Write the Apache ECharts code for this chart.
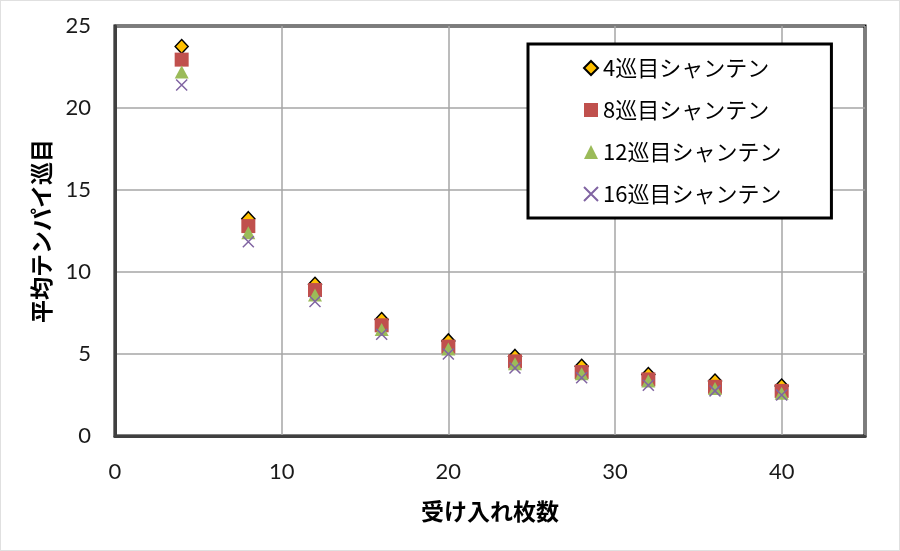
<!DOCTYPE html>
<html>
<head>
<meta charset="utf-8">
<script src="https://cdn.jsdelivr.net/npm/echarts@6/dist/echarts.min.js"></script>
<style>
html,body{margin:0;padding:0;background:#fff;}
#main{width:900px;height:551px;box-sizing:border-box;border:1px solid #e0e0e0;}
</style>
</head>
<body>
<div id="main"></div>
<script>
// 受け入れ枚数
var ukeire = [4, 8, 12, 16, 20, 24, 28, 32, 36, 40];
// 平均テンパイ巡目
var shanten4  = [23.75, 13.25, 9.25, 7.1, 5.8, 4.85, 4.25, 3.75, 3.35, 3.05];
var shanten8  = [22.95, 12.8, 8.9, 6.75, 5.45, 4.55, 3.9, 3.45, 3.0, 2.75];
var shanten12 = [22.2, 12.4, 8.6, 6.5, 5.3, 4.4, 3.8, 3.35, 2.9, 2.6];
var shanten16 = [21.4, 11.85, 8.2, 6.2, 5.0, 4.15, 3.55, 3.1, 2.75, 2.5];
var seriesNames = ['4巡目シャンテン', '8巡目シャンテン', '12巡目シャンテン', '16巡目シャンテン'];

function pairs(ys){
    return ukeire.map(function(x, i){ return [x, ys[i]]; });
}

var numFont = "Lato, 'Noto Sans CJK JP', sans-serif";
var jpFont = "'Noto Sans CJK JP', sans-serif";
var crossPath = 'path://M0,0L10,10M10,0L0,10';

var myChart = echarts.init(document.getElementById('main'));
var option = {
    backgroundColor: '#fff',
    animation: false,
    grid: {
        left: 114,
        right: 34,
        top: 25,
        bottom: 114,
        show: true,
        borderColor: '#000',
        borderWidth: 3
    },
    legend: {
        orient: 'vertical',
        left: 527,
        top: 43,
        width: 320,
        padding: [12, 50, 12, 55],
        borderColor: '#000',
        borderWidth: 3,
        backgroundColor: '#fff',
        itemGap: 18,
        itemWidth: 14,
        itemHeight: 14,
        textStyle: {
            fontFamily: jpFont,
            fontSize: 22,
            lineHeight: 24,
            color: '#000'
        },
        data: seriesNames
    },
    xAxis: {
        type: 'value',
        min: 0,
        max: 45,
        interval: 10,
        name: '受け入れ枚数',
        nameLocation: 'middle',
        nameGap: 64,
        nameTextStyle: {
            fontFamily: jpFont,
            fontSize: 23,
            fontWeight: 'bold',
            color: '#000'
        },
        axisLine: { lineStyle: { color: '#404040', width: 3 } },
        axisTick: { show: false },
        axisLabel: {
            margin: 25,
            fontFamily: numFont,
            fontSize: 22,
            color: '#1a1a1a',
            showMaxLabel: false
        },
        splitLine: { show: true, lineStyle: { color: '#a6a6a6', width: 1.5 } }
    },
    yAxis: {
        type: 'value',
        min: 0,
        max: 25,
        interval: 5,
        name: '平均テンパイ巡目',
        nameLocation: 'middle',
        nameGap: 62,
        nameRotate: 90,
        nameTextStyle: {
            fontFamily: jpFont,
            fontSize: 23,
            fontWeight: 'bold',
            color: '#000'
        },
        axisLine: { show: true, lineStyle: { color: '#404040', width: 3 } },
        axisTick: { show: false },
        axisLabel: {
            margin: 24,
            fontFamily: numFont,
            fontSize: 22,
            color: '#1a1a1a'
        },
        splitLine: { show: true, lineStyle: { color: '#a6a6a6', width: 1.5 } }
    },
    series: [{
        name: seriesNames[0],
        type: 'scatter',
        symbol: 'diamond',
        symbolSize: [13, 14],
        itemStyle: { color: '#FFC000', borderColor: '#000', borderWidth: 1.5, opacity: 1 },
        data: pairs(shanten4)
    }, {
        name: seriesNames[1],
        type: 'scatter',
        symbol: 'rect',
        symbolSize: 14,
        itemStyle: { color: '#C0504D', opacity: 1 },
        data: pairs(shanten8)
    }, {
        name: seriesNames[2],
        type: 'scatter',
        symbol: 'triangle',
        symbolSize: [14, 13],
        itemStyle: { color: '#9BBB59', opacity: 1 },
        data: pairs(shanten12)
    }, {
        name: seriesNames[3],
        type: 'scatter',
        symbol: crossPath,
        symbolSize: 11,
        itemStyle: { color: 'rgba(0,0,0,0)', borderColor: '#8064A2', borderWidth: 1.5, opacity: 1 },
        data: pairs(shanten16)
    }]
};
myChart.setOption(option);
</script>
</body>
</html>
